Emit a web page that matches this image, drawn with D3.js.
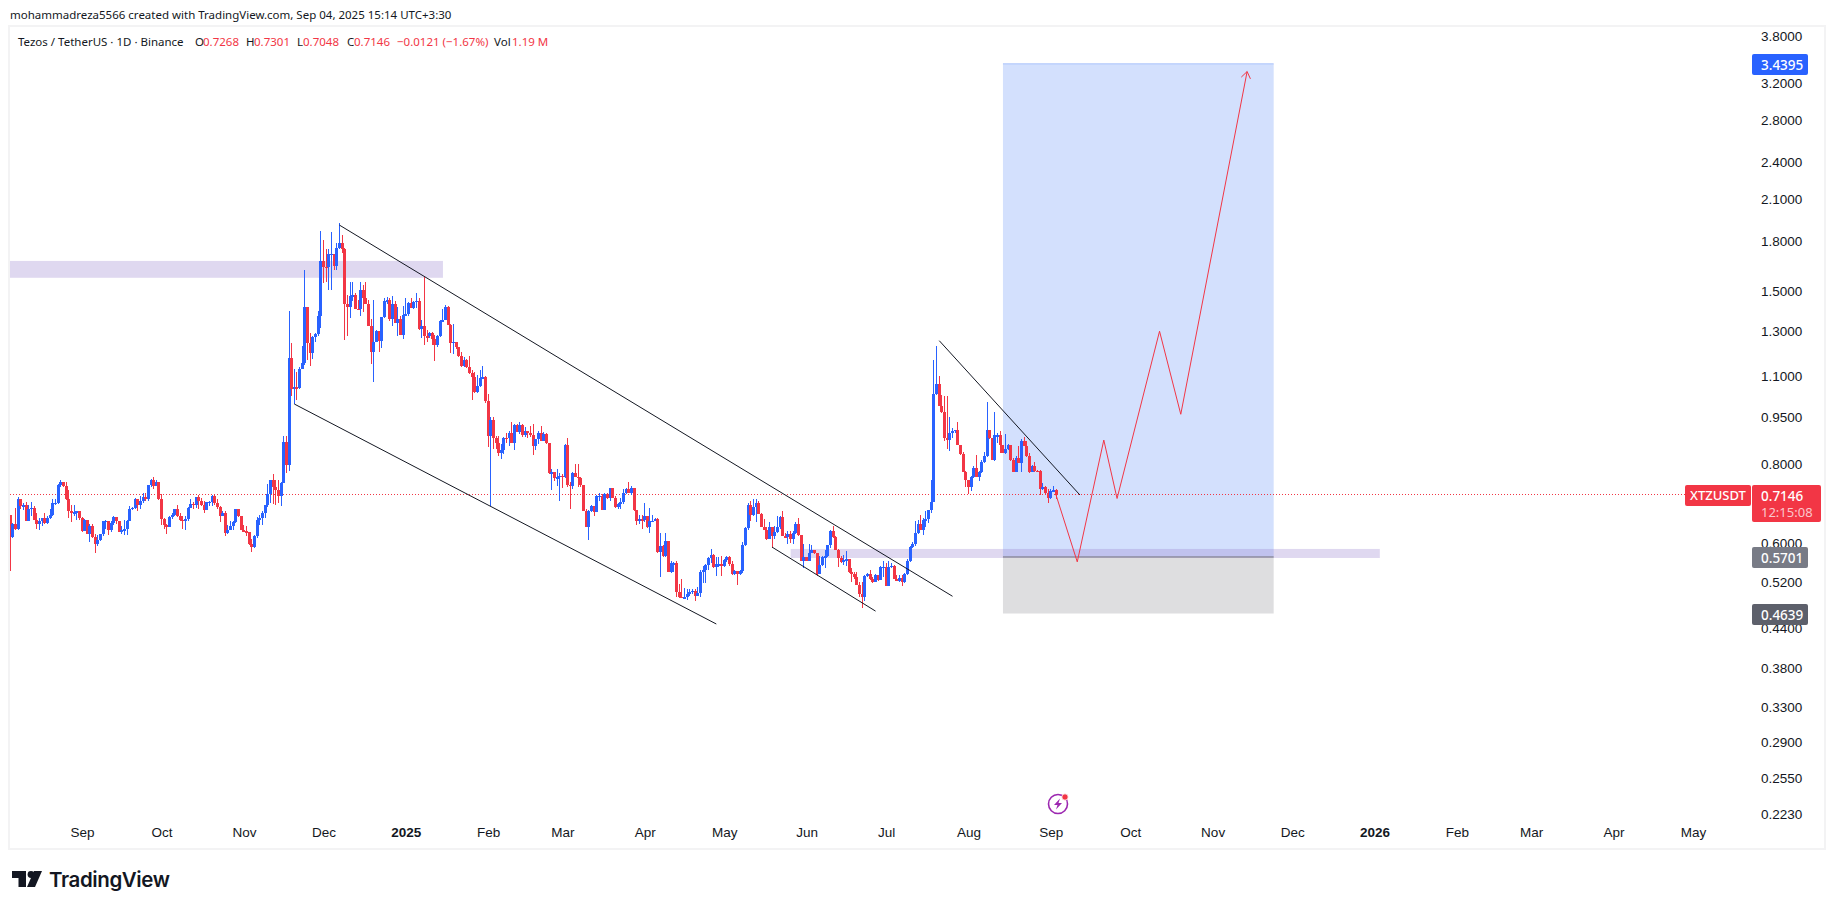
<!DOCTYPE html>
<html lang="en">
<head>
  <meta charset="UTF-8">
  <title>XTZUSDT 1D</title>
  <script src="https://d3js.org/d3.v7.min.js"></script>
  <style>
    html, body { margin: 0; background: #fff; }
    svg { display: block; font-family: "Noto Sans", sans-serif; }
    .axis text { fill: #131722; font-size: 13.5px; }
    .axis path, .axis line { display: none; }
  </style>
</head>
<body>
  <svg width="1835" height="909"></svg>
  <script>
    const firstDay = "2024-08-05";
    const firstOpen = 0.664;

    const closes = [
      .613,.642,.631,.704,.686,.688,.651,.678,.682,.653,
      .643,.651,.657,.645,.657,.665,.694,.695,.742,.749,
      .739,.703,.673,.669,.671,.673,.658,.627,.653,.620,
      .639,.613,.597,.606,.619,.649,.650,.630,.645,.659,
      .649,.625,.628,.631,.651,.679,.682,.704,.690,.698,
      .709,.704,.741,.756,.739,.748,.703,.655,.641,.637,
      .659,.665,.678,.661,.653,.649,.655,.682,.692,.688,
      .709,.698,.688,.676,.696,.697,.711,.694,.684,.661,
      .670,.623,.630,.639,.647,.678,.661,.628,.626,.624,
      .597,.591,.616,.653,.657,.670,.688,.718,.754,.737,
      .728,.711,.746,.868,.796,1.179,1.051,1.058,1.054,1.133,
      1.154,1.416,1.244,1.200,1.270,1.283,1.374,1.675,1.641,1.639,
      1.717,1.723,1.645,1.757,1.793,1.753,1.436,1.417,1.477,1.479,
      1.410,1.407,1.508,1.464,1.436,1.325,1.202,1.248,1.301,1.251,
      1.366,1.450,1.452,1.355,1.434,1.338,1.355,1.282,1.377,1.380,
      1.441,1.412,1.446,1.451,1.308,1.322,1.275,1.274,1.289,1.262,
      1.235,1.277,1.347,1.351,1.420,1.326,1.245,1.248,1.225,1.185,
      1.144,1.170,1.139,1.115,1.097,1.041,1.063,1.095,1.097,1.005,
      .886,.939,.879,.865,.833,.841,.880,.878,.895,.863,
      .923,.900,.923,.888,.902,.896,.890,.854,.875,.896,
      .870,.894,.863,.774,.776,.761,.762,.767,.762,.857,
      .742,.739,.775,.764,.760,.742,.675,.637,.675,.687,
      .672,.711,.713,.677,.718,.707,.732,.708,.683,.692,
      .696,.721,.730,.721,.732,.677,.651,.654,.652,.662,
      .637,.649,.651,.655,.580,.593,.572,.605,.540,.557,
      .557,.501,.493,.492,.492,.499,.501,.504,.494,.500,
      .540,.544,.553,.567,.574,.549,.555,.555,.551,.564,
      .570,.555,.536,.541,.536,.541,.596,.633,.690,.664,
      .683,.694,.667,.637,.630,.609,.637,.615,.625,.635,
      .659,.615,.613,.619,.609,.622,.644,.617,.562,.571,
      .562,.579,.585,.578,.536,.553,.571,.572,.595,.626,
      .614,.585,.568,.559,.563,.565,.540,.535,.530,.514,
      .498,.492,.532,.535,.526,.520,.534,.525,.549,.550,
      .513,.549,.552,.526,.523,.528,.520,.536,.562,.592,
      .598,.622,.644,.630,.652,.654,.676,.697,1.034,1.072,
      .990,.966,.880,.872,.897,.902,.906,.857,.829,.776,
      .755,.737,.764,.788,.762,.778,.806,.824,.906,.878,
      .812,.888,.889,.856,.833,.846,.856,.812,.778,.817,
      .802,.869,.854,.823,.778,.795,.781,.780,.730,.735,
      .719,.706,.726,.727,.7146
    ];

    const highs = [
      .663,.645,.682,.709,.704,.694,.696,.688,.697,.686,
      .670,.657,.658,.669,.662,.678,.705,.704,.743,.756,
      .749,.749,.727,.690,.690,.673,.674,.659,.654,.653,
      .642,.643,.619,.617,.621,.650,.653,.645,.649,.661,
      .660,.651,.638,.653,.653,.686,.684,.707,.704,.713,
      .720,.720,.742,.758,.763,.756,.746,.718,.657,.643,
      .661,.669,.680,.688,.669,.662,.661,.684,.704,.696,
      .709,.715,.707,.698,.697,.700,.714,.715,.704,.686,
      .675,.673,.641,.649,.649,.680,.680,.662,.641,.638,
      .625,.608,.617,.659,.665,.673,.690,.745,.756,.771,
      .754,.754,.748,.887,.885,1.399,1.244,1.133,1.119,1.139,
      1.232,1.624,1.416,1.290,1.275,1.290,1.399,1.869,1.808,1.751,
      1.749,1.864,1.723,1.793,1.923,1.845,1.757,1.482,1.551,1.551,
      1.492,1.455,1.555,1.534,1.555,1.455,1.359,1.457,1.302,1.301,
      1.369,1.467,1.472,1.467,1.474,1.450,1.417,1.370,1.424,1.467,
      1.446,1.467,1.451,1.490,1.467,1.351,1.581,1.306,1.292,1.295,
      1.282,1.282,1.351,1.407,1.429,1.424,1.332,1.332,1.248,1.225,
      1.203,1.182,1.172,1.187,1.125,1.119,1.105,1.125,1.143,1.102,
      1.031,.951,.951,.887,.885,.859,.882,.896,.903,.933,
      .927,.927,.932,.927,.917,.902,.920,.924,.877,.902,
      .920,.898,.896,.865,.787,.778,.787,.773,.771,.860,
      .879,.748,.776,.799,.799,.764,.742,.679,.677,.688,
      .687,.714,.720,.717,.719,.720,.733,.733,.711,.693,
      .707,.730,.733,.749,.739,.733,.677,.665,.665,.694,
      .662,.681,.665,.656,.656,.622,.595,.622,.605,.561,
      .559,.561,.516,.527,.509,.507,.507,.507,.507,.511,
      .544,.551,.555,.569,.586,.577,.569,.571,.572,.565,
      .572,.573,.561,.543,.541,.543,.602,.636,.694,.698,
      .703,.703,.698,.669,.655,.637,.647,.637,.639,.661,
      .663,.673,.622,.627,.627,.627,.648,.657,.617,.597,
      .571,.597,.595,.585,.574,.572,.572,.585,.596,.628,
      .638,.615,.586,.572,.574,.583,.565,.547,.540,.540,
      .520,.520,.534,.537,.543,.530,.535,.534,.551,.561,
      .558,.561,.558,.554,.533,.533,.533,.538,.566,.594,
      .602,.649,.653,.665,.657,.673,.677,.756,1.170,1.232,
      1.101,1.030,1.024,1.026,.950,.913,.907,.932,.857,.835,
      .780,.755,.765,.793,.828,.781,.812,.835,1.002,.906,
      .878,.967,.896,.902,.856,.891,.860,.856,.817,.824,
      .854,.877,.882,.870,.834,.798,.805,.783,.782,.746,
      .739,.730,.730,.739,.7301
    ];

    const lows = [
      .541,.611,.630,.628,.678,.676,.651,.651,.662,.653,
      .631,.630,.638,.643,.643,.655,.662,.690,.692,.737,
      .737,.702,.658,.648,.661,.653,.653,.624,.627,.620,
      .602,.611,.579,.593,.605,.616,.631,.617,.625,.641,
      .643,.624,.619,.617,.617,.650,.676,.678,.673,.678,
      .694,.698,.698,.736,.731,.739,.701,.641,.631,.620,
      .635,.655,.661,.659,.651,.631,.630,.649,.682,.678,
      .682,.680,.686,.670,.676,.686,.686,.690,.678,.647,
      .661,.616,.619,.628,.628,.645,.659,.628,.626,.616,
      .595,.580,.590,.611,.641,.641,.657,.684,.694,.692,
      .688,.694,.686,.748,.773,.780,1.024,.996,1.009,1.051,
      1.144,1.147,1.170,1.144,1.172,1.250,1.275,1.313,1.549,1.552,
      1.506,1.506,1.620,1.620,1.753,1.725,1.257,1.275,1.360,1.447,
      1.407,1.403,1.374,1.393,1.436,1.325,1.150,1.079,1.248,1.204,
      1.219,1.364,1.434,1.348,1.323,1.338,1.275,1.282,1.262,1.370,
      1.370,1.412,1.407,1.412,1.305,1.265,1.235,1.250,1.265,1.235,
      1.165,1.224,1.272,1.345,1.350,1.326,1.199,1.196,1.217,1.180,
      1.140,1.140,1.137,1.112,1.011,1.038,1.038,1.058,1.089,1.001,
      .850,.686,.846,.845,.825,.815,.830,.863,.853,.863,
      .842,.898,.892,.882,.882,.881,.884,.826,.841,.859,
      .870,.870,.862,.770,.727,.751,.739,.698,.733,.761,
      .737,.680,.731,.764,.737,.737,.673,.635,.606,.672,
      .663,.672,.698,.677,.677,.705,.698,.707,.681,.679,
      .679,.692,.718,.721,.715,.675,.640,.642,.632,.648,
      .633,.622,.647,.650,.579,.530,.571,.571,.540,.537,
      .540,.493,.491,.491,.491,.488,.494,.499,.486,.494,
      .493,.519,.519,.544,.557,.547,.532,.549,.531,.550,
      .560,.552,.534,.533,.514,.534,.537,.593,.630,.650,
      .662,.647,.667,.637,.629,.607,.613,.590,.609,.622,
      .631,.615,.611,.597,.600,.597,.619,.615,.562,.547,
      .561,.569,.578,.577,.532,.536,.551,.548,.571,.590,
      .612,.585,.549,.557,.553,.551,.537,.520,.527,.514,
      .492,.473,.486,.530,.524,.518,.520,.523,.524,.530,
      .513,.513,.548,.526,.523,.520,.513,.519,.534,.559,
      .590,.593,.619,.630,.617,.635,.646,.668,.696,1.030,
      .990,.964,.870,.845,.840,.880,.897,.857,.827,.776,
      .736,.718,.724,.760,.762,.751,.773,.804,.822,.875,
      .812,.810,.864,.832,.832,.829,.843,.810,.778,.777,
      .802,.776,.854,.821,.775,.776,.778,.779,.715,.727,
      .718,.694,.704,.724,.7048
    ];

    const priceTicks = [3.8, 3.2, 2.8, 2.4, 2.1, 1.8, 1.5, 1.3, 1.1, 0.95, 0.8, 0.6, 0.52, 0.44, 0.38, 0.33, 0.29, 0.255, 0.223];
    const monthTicks = ["2024-09-01", "2024-10-01", "2024-11-01", "2024-12-01", "2025-01-01", "2025-02-01", "2025-03-01", "2025-04-01", "2025-05-01", "2025-06-01", "2025-07-01", "2025-08-01", "2025-09-01", "2025-10-01", "2025-11-01", "2025-12-01", "2026-01-01", "2026-02-01", "2026-03-01", "2026-04-01", "2026-05-01"];

    // drawings: [start day, end day, price, price]
    const resistanceZone = ["2024-07-01", "2025-01-15", 1.677, 1.577];
    const supportZone = ["2025-05-26", "2026-01-03", 0.587, 0.568];
    const targetBox = ["2025-08-14", "2025-11-24", 3.4395, 0.5701];
    const stopBox = ["2025-08-14", "2025-11-24", 0.5701, 0.4639];

    // [start day, start price, end day, end price]
    const trendLines = [
      ["2024-12-07", 1.911, "2025-07-26", 0.494],
      ["2024-11-20", 0.9955, "2025-04-28", 0.4465],
      ["2025-05-19", 0.591, "2025-06-27", 0.468],
      ["2025-07-21", 1.254, "2025-09-12", 0.7146]
    ];

    const forecastDays = ["2025-09-03", "2025-09-11", "2025-09-21", "2025-09-26", "2025-10-12", "2025-10-20", "2025-11-14"];
    const forecastPrices = [0.7146, 0.560, 0.873, 0.7055, 1.298, 0.959, 3.344];

    const BLUE = "#2962ff", RED = "#f23645";
    const pane = { left: 10, right: 1824, top: 27, bottom: 848 };

    const day = d3.utcParse("%Y-%m-%d");
    const x = d3.scaleUtc().domain([day("2024-09-01"), day("2026-05-01")]).range([82, 1693]);
    const y = d3.scaleLog().domain([0.223, 3.8]).range([814.5, 36.5]);

    const svg = d3.select("svg");
    const defs = svg.append("defs");
    defs.append("clipPath").attr("id", "pane").append("rect")
      .attr("x", pane.left).attr("y", pane.top)
      .attr("width", pane.right - pane.left).attr("height", pane.bottom - pane.top);

    // pane frame
    svg.append("rect")
      .attr("x", pane.left - 1).attr("y", pane.top - 1)
      .attr("width", pane.right - pane.left + 2).attr("height", pane.bottom - pane.top + 2)
      .attr("fill", "none").attr("stroke", "#f3f3f4").attr("stroke-width", 2);

    const plot = svg.append("g").attr("clip-path", "url(#pane)");

    function box(z, fill, opacity) {
      plot.append("rect")
        .attr("x", x(day(z[0]))).attr("width", x(day(z[1])) - x(day(z[0])))
        .attr("y", y(z[2])).attr("height", y(z[3]) - y(z[2]))
        .attr("fill", fill).attr("fill-opacity", opacity);
    }

    box(targetBox, "#d3e0fd", 1);
    box(stopBox, "#dedee0", 1);
    plot.append("line")
      .attr("x1", x(day(targetBox[0]))).attr("x2", x(day(targetBox[1])))
      .attr("y1", y(targetBox[2])).attr("y2", y(targetBox[2]))
      .attr("stroke", "#a9c1fb").attr("stroke-width", 1);
    box(resistanceZone, "#947dcd", 0.3);
    box(supportZone, "#947dcd", 0.3);
    plot.append("line")
      .attr("x1", x(day(targetBox[0]))).attr("x2", x(day(targetBox[1])))
      .attr("y1", y(targetBox[3])).attr("y2", y(targetBox[3]))
      .attr("stroke", "#76767f").attr("stroke-width", 1);

    // last price line
    plot.append("line")
      .attr("x1", pane.left).attr("x2", 1685)
      .attr("y1", Math.floor(y(0.7146)) + 0.5).attr("y2", Math.floor(y(0.7146)) + 0.5)
      .attr("shape-rendering", "crispEdges")
      .attr("stroke", RED).attr("stroke-width", 1).attr("stroke-dasharray", "1 2");

    const candles = closes.map((c, i) => ({
      date: d3.utcDay.offset(day(firstDay), i),
      open: i ? closes[i - 1] : firstOpen,
      close: c,
      high: highs[i],
      low: lows[i]
    }));

    const candle = plot.append("g").attr("shape-rendering", "crispEdges")
      .selectAll("g").data(candles).enter().append("g")
      .attr("fill", d => d.close >= d.open ? BLUE : RED);

    candle.append("rect")
      .attr("x", d => Math.round(x(d.date) - 0.5))
      .attr("width", 1)
      .attr("y", d => y(d.high))
      .attr("height", d => y(d.low) - y(d.high));

    candle.append("rect")
      .attr("x", d => Math.round(x(d.date) - 1.5))
      .attr("width", 3)
      .attr("y", d => y(Math.max(d.open, d.close)))
      .attr("height", d => Math.max(1.5, Math.abs(y(d.open) - y(d.close))));

    // trend lines
    plot.selectAll(".trend").data(trendLines).enter().append("line")
      .attr("class", "trend")
      .attr("x1", d => x(day(d[0]))).attr("y1", d => y(d[1]))
      .attr("x2", d => x(day(d[2]))).attr("y2", d => y(d[3]))
      .attr("stroke", "#131722").attr("stroke-width", 1);

    // forecast path with open arrow head
    const forecast = forecastDays.map((d, i) => [x(day(d)), y(forecastPrices[i])]);
    plot.append("path")
      .attr("d", d3.line()(forecast))
      .attr("fill", "none").attr("stroke", RED).attr("stroke-width", 1);
    const tip = forecast[forecast.length - 1], prev = forecast[forecast.length - 2];
    const angle = Math.atan2(prev[1] - tip[1], prev[0] - tip[0]);
    plot.append("path")
      .attr("d", d3.line()([-0.62, 0.62].map(a => [tip[0] + 8 * Math.cos(angle + a), tip[1] + 8 * Math.sin(angle + a)]).flatMap((p, i) => i ? [tip, p] : [p])))
      .attr("fill", "none").attr("stroke", RED).attr("stroke-width", 1);

    // axes
    svg.append("g").attr("class", "axis").attr("transform", "translate(1751,0)")
      .call(d3.axisRight(y).tickValues(priceTicks).tickFormat(d3.format(".4f")).tickSize(0).tickPadding(10));

    const xAxis = svg.append("g").attr("class", "axis").attr("transform", "translate(0,821)")
      .call(d3.axisBottom(x).tickValues(monthTicks.map(day))
        .tickFormat(d => d.getUTCMonth() === 0 ? d3.utcFormat("%Y")(d) : d3.utcFormat("%b")(d))
        .tickSize(0).tickPadding(6));
    xAxis.selectAll("text").attr("font-weight", d => d.getUTCMonth() === 0 ? 700 : 400);

    // header texts
    function label(tx, ty, str, opts = {}) {
      return svg.append("text").attr("x", tx).attr("y", ty).text(str)
        .attr("font-size", opts.size || 11.5)
        .attr("font-weight", opts.weight || 400)
        .attr("fill", opts.fill || "#131722")
        .attr("text-anchor", opts.anchor || "start");
    }

    label(10, 18.5, "mohammadreza5566 created with TradingView.com, Sep 04, 2025 15:14 UTC+3:30", { size: 11.5 });
    label(18, 46, "Tezos / TetherUS · 1D · Binance");
    [[195, "O"], [246, "H"], [297, "L"], [347, "C"], [494, "Vol"]].forEach(d => label(d[0], 46, d[1]));
    [[203, "0.7268"], [254, "0.7301"], [303, "0.7048"], [354, "0.7146"], [397, "−0.0121 (−1.67%)"], [512, "1.19 M"]]
      .forEach(d => label(d[0], 46, d[1], { fill: RED }));

    // price tags
    function tag(tx, ty, w, h, fill, str) {
      svg.append("rect").attr("x", tx).attr("y", ty).attr("width", w).attr("height", h).attr("rx", 2).attr("fill", fill);
      label(tx + 9, ty + h / 2 + 5, str, { size: 13.5, weight: 500, fill: "#fff" });
    }
    function priceTag(price, w, fill) {
      tag(1752, Math.round(y(price)) - 10, w, 21, fill, d3.format(".4f")(price));
    }
    priceTag(3.4395, 56, BLUE);
    priceTag(0.5701, 56, "#787b86");
    priceTag(0.4639, 56, "#5d606b");

    svg.append("rect").attr("x", 1685).attr("y", 485).attr("width", 66).attr("height", 21).attr("rx", 2).attr("fill", RED);
    label(1690, 500, "XTZUSDT", { size: 13, weight: 500, fill: "#fff" });
    svg.append("rect").attr("x", 1752).attr("y", 485).attr("width", 69).attr("height", 37).attr("rx", 2).attr("fill", RED);
    label(1761, 501, "0.7146", { size: 13.5, weight: 500, fill: "#fff" });
    label(1761, 517, "12:15:08", { size: 13, fill: "#fbc6cc" });

    // lightning badge
    const badge = svg.append("g").attr("transform", "translate(1058,804)");
    badge.append("circle").attr("r", 9.5).attr("fill", "none").attr("stroke", "#9c27b0").attr("stroke-width", 1.6);
    badge.append("path").attr("d", "M2 -5.5 L-4 1 L-0.5 1 L-2 5.5 L4 -1 L0.5 -1 Z").attr("fill", "#9c27b0");
    badge.append("circle").attr("cx", 7).attr("cy", -7).attr("r", 3.2).attr("fill", RED).attr("stroke", "#fff").attr("stroke-width", 0.8);

    // logo
    const logo = svg.append("g").attr("fill", "#131722");
    logo.append("path").attr("d", "M12 871 H26 V887 H18.5 V878 H12 Z");
    logo.append("circle").attr("cx", 31).attr("cy", 874.5).attr("r", 3.4);
    logo.append("path").attr("d", "M34 871 H42 L35 887 H27 Z");
    label(49, 887, "TradingView", { size: 20.5, weight: 600 }).attr("font-family", "Inter, sans-serif").attr("letter-spacing", -0.4);
  </script>
</body>
</html>
